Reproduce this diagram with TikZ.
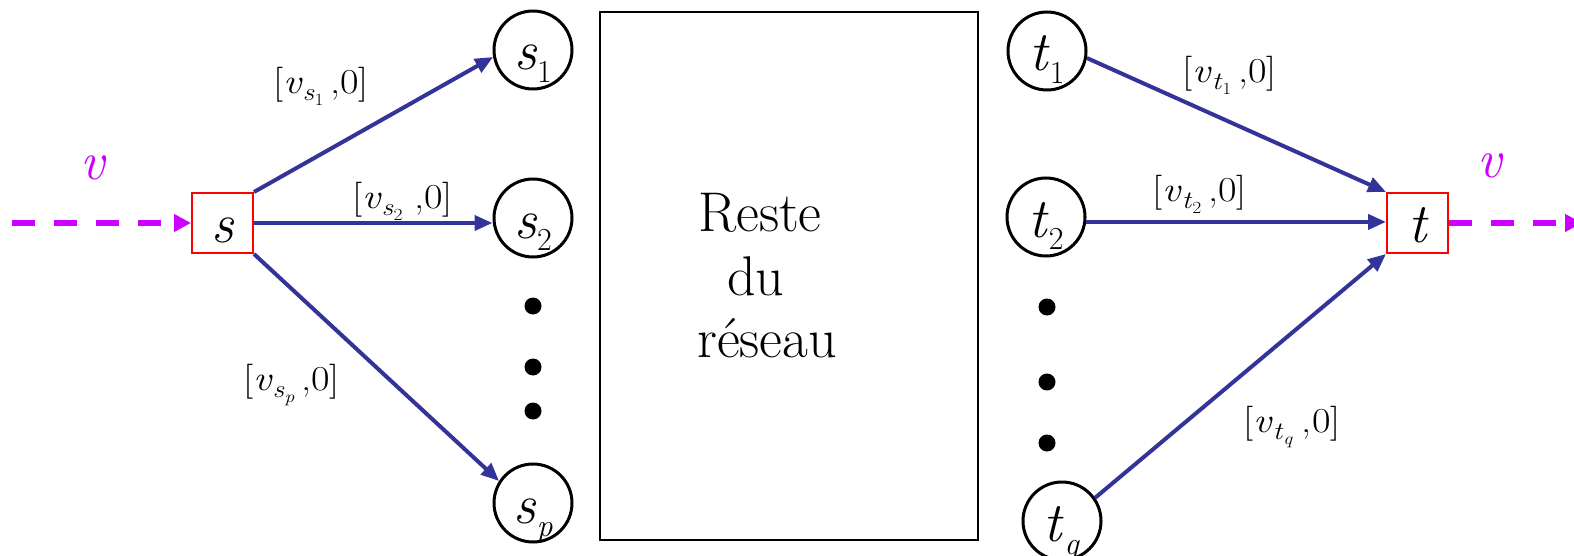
\documentclass[tikz,border=0pt]{standalone}
\usepackage{fontspec}
\usetikzlibrary{arrows.meta}
\definecolor{mag}{RGB}{204,0,255}
\definecolor{arrblue}{RGB}{51,51,153}
\definecolor{boxred}{RGB}{255,0,0}
\newcommand\nsub[2]{#1\raisebox{-13pt}{\fontsize{32}{32}\selectfont #2}}
\newcommand\elab[3]{\scalebox{1.15}[1]{[\textit{v}\raisebox{-7pt}{\fontsize{25}{25}\selectfont\textit{#1}\raisebox{-5pt}{\fontsize{17}{17}\selectfont #2}}\hspace{#3},0]}}
\begin{document}
\begin{tikzpicture}[x=1pt,y=-1pt,
  circ/.style={circle,draw=black,line width=3pt,minimum size=78pt,inner sep=0pt,text height=40pt,text depth=0pt,font=\fontsize{56}{56}\selectfont},
  sqbox/.style={rectangle,draw=boxred,line width=2pt,minimum width=61pt,minimum height=60pt,inner sep=0pt,text height=40pt,text depth=0pt,font=\fontsize{56}{56}\selectfont\itshape},
  edgearr/.style={draw=arrblue,line width=4pt,-{Triangle[length=18pt,width=15pt]}},
  flow/.style={draw=mag,line width=6pt,dash pattern=on 23pt off 19pt,-{Triangle[length=17pt,width=17pt]}},
  elabel/.style={anchor=base west,inner sep=0pt,font=\fontsize{35}{35}\selectfont},
  vlabel/.style={inner sep=0pt,text=mag,font=\fontsize{54}{54}\selectfont\itshape},
  dotnode/.style={circle,fill=black,minimum size=17pt,inner sep=0pt},
  bodytext/.style={anchor=base west,inner sep=0pt,font=\fontsize{56}{56}\selectfont}]
\useasboundingbox (0,0) rectangle (1574,556);
% nodes
\node[sqbox] (s) at (222.5,223) {s};
\node[sqbox] (t) at (1417.5,223) {t};
\node[circ] (s1) at (533,50) {\nsub{\textit{s}}{1}};
\node[circ] (s2) at (533,218) {\nsub{\textit{s}}{2}};
\node[circ] (sp) at (533,503) {\nsub{\textit{s}}{\textit{p}}};
\node[circ] (t1) at (1047,51) {\nsub{\textit{t}}{1}};
\node[circ] (t2) at (1046,217) {\nsub{\textit{t}}{2}};
\node[circ] (tq) at (1062,521) {\nsub{\textit{t}}{\textit{q}}};
\node[dotnode] (ld1) at (533,306) {};
\node[dotnode] (ld2) at (533,367) {};
\node[dotnode] (ld3) at (533,411) {};
\node[dotnode] (rd1) at (1047,307) {};
\node[dotnode] (rd2) at (1047,382) {};
\node[dotnode] (rd3) at (1047,443) {};
\node[draw=black,line width=2pt,minimum width=378pt,minimum height=528pt,inner sep=0pt] (rest) at (789,276) {};
\node[bodytext] (r1) at (698,232) {Reste};
\node[bodytext] (r2) at (727,295) {du};
\node[bodytext] (r3) at (697,357) {réseau};
\node[vlabel] (vin) at (93,168) {v};
\node[vlabel] (vout) at (1490,166) {v};
% edge labels
\node[elabel] (ls1) at (273,94) {\elab{s}{1}{6pt}};
\node[elabel] (ls2) at (352,209) {\elab{s}{2}{10pt}};
\node[elabel] (lsp) at (243,390) {\elab{s}{\textit{p}}{6pt}};
\node[elabel] (lt1) at (1182,83) {\elab{t}{1}{6pt}};
\node[elabel] (lt2) at (1152,202) {\elab{t}{2}{6pt}};
\node[elabel] (ltq) at (1243,432) {\elab{t}{\textit{q}}{8pt}};
% connectors
\coordinate (fin) at (12,223);
\coordinate (fout) at (1582,223);
\draw[flow] (fin) -- (s.west);
\draw[flow] (t.east) -- (fout);
\draw[edgearr] (s.north east) -- (s1.190);
\draw[edgearr] (s.east) -- (s.east -| s2.west);
\draw[edgearr] (s.south east) -- (sp.147);
\draw[edgearr] (t1.350) -- (t.north west);
\draw[edgearr] (t2.-7) -- (t2.-7 -| t.west);
\draw[edgearr] (tq.35) -- (t.south west);
\end{tikzpicture}
\end{document}
